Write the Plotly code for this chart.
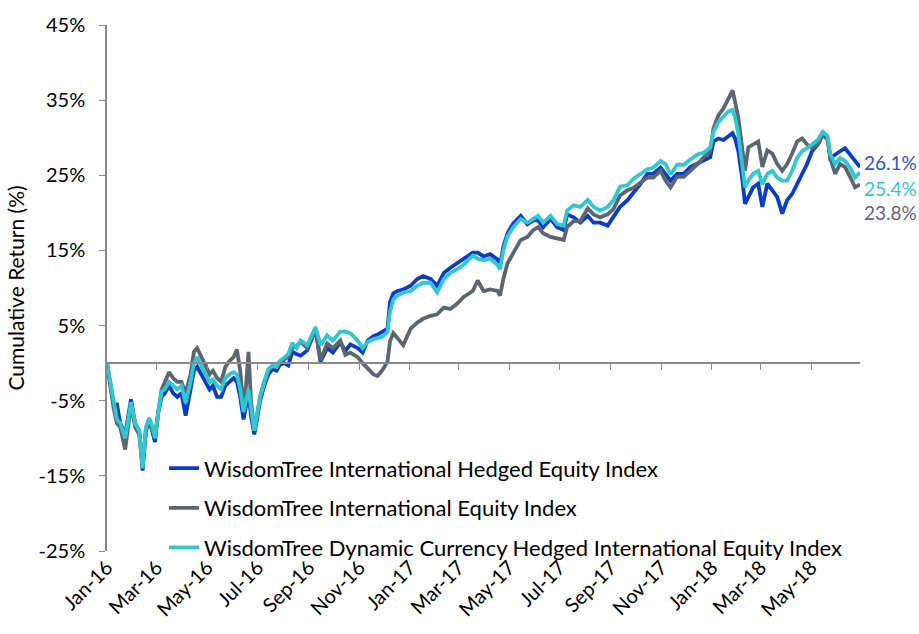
import plotly.graph_objects as go

dates = [
 "2016-01-01","2016-01-05","2016-01-09","2016-01-13","2016-01-17","2016-01-23","2016-01-30","2016-02-04","2016-02-09","2016-02-13",
 "2016-02-17","2016-02-21","2016-02-25","2016-02-28","2016-03-03","2016-03-07","2016-03-11","2016-03-16","2016-03-21","2016-03-26",
 "2016-03-31","2016-04-05","2016-04-11","2016-04-15","2016-04-19","2016-04-24","2016-04-29","2016-05-04","2016-05-08","2016-05-13",
 "2016-05-18","2016-05-23","2016-05-28","2016-06-02","2016-06-06","2016-06-10","2016-06-14","2016-06-17","2016-06-20","2016-06-23",
 "2016-06-27","2016-07-01","2016-07-04","2016-07-09","2016-07-14","2016-07-19","2016-07-24","2016-07-28","2016-08-02","2016-08-07",
 "2016-08-12","2016-08-17","2016-08-22","2016-08-30","2016-09-09","2016-09-15","2016-09-23","2016-09-30","2016-10-09","2016-10-15",
 "2016-10-21","2016-10-30","2016-11-05","2016-11-11","2016-11-18","2016-11-23","2016-11-29","2016-12-05","2016-12-08","2016-12-12",
 "2016-12-17","2016-12-24","2017-01-02","2017-01-10","2017-01-17","2017-01-26","2017-02-03","2017-02-11","2017-02-19","2017-02-27",
 "2017-03-07","2017-03-18","2017-03-24","2017-03-31","2017-04-08","2017-04-17","2017-04-20","2017-04-24","2017-04-29","2017-05-06",
 "2017-05-15","2017-05-23","2017-05-30","2017-06-05","2017-06-11","2017-06-20","2017-06-28","2017-07-06","2017-07-10","2017-07-18",
 "2017-07-26","2017-08-04","2017-08-11","2017-08-19","2017-08-28","2017-09-04","2017-09-12","2017-09-21","2017-09-28","2017-10-07",
 "2017-10-15","2017-10-22","2017-10-31","2017-11-06","2017-11-12","2017-11-20","2017-11-28","2017-12-06","2017-12-15","2017-12-22",
 "2017-12-30","2018-01-03","2018-01-09","2018-01-15","2018-01-21","2018-01-26","2018-01-29","2018-02-02","2018-02-07","2018-02-10",
 "2018-02-14","2018-02-20","2018-02-26","2018-03-03","2018-03-09","2018-03-15","2018-03-21","2018-03-27","2018-04-02","2018-04-08",
 "2018-04-14","2018-04-20","2018-04-26","2018-05-02","2018-05-09","2018-05-15","2018-05-21","2018-05-24","2018-05-30","2018-06-05",
 "2018-06-11","2018-06-17","2018-06-23","2018-06-29",
]

hedged = [
 0,-2.5,-5.5,-5.5,-8,-9.5,-4.8,-8,-9,-14.3,
 -9,-7.5,-9,-10.5,-6.5,-4.5,-4,-3,-4,-4.5,
 -4,-7,-3.5,-1,-0.5,-1.5,-2.5,-3.5,-3,-4.5,
 -4.5,-3,-2.5,-2,-2.5,-4.5,-7.5,-6,-4,-7,
 -9.5,-7,-5,-3,-1.5,-0.8,-1,-0.2,0,-0.3,
 1.5,1.2,1,1.7,4.5,0.2,2,1.4,2.8,1.6,
 2.5,2,1.4,3,3.6,3.8,4.2,4.6,8.1,9.3,
 9.6,9.8,10.3,11.2,11.6,11.2,10.3,12,12.7,13.3,
 13.8,14.7,14.7,14.2,14.5,13.8,13,15.5,17.3,18.6,
 19.6,18.5,19,19,18.1,19.2,18.1,17.7,19.8,19.4,
 18.7,19.6,18.7,18.7,18.3,19.4,20.8,21.7,22.6,23.9,
 25.2,25.2,26,25.2,24.3,25.2,25.2,26.1,26.6,27,
 27.4,29.5,29.9,29.7,30.2,30.6,29.9,28.2,24.3,21.2,
 22.1,23.4,23.9,20.8,23.9,23,22.1,19.9,21.7,22.5,
 23.8,25.2,26.5,28.2,29.1,30.4,29.9,27.3,27.8,28.2,
 28.6,27.8,26.9,26.1,
]

intl = [
 0,-3,-6,-8,-8.5,-11.5,-5.5,-8.5,-9.5,-13.5,
 -9,-7.8,-9,-9.5,-6,-3.5,-2.5,-1.2,-2,-2.5,
 -2.5,-4,-1.5,1.5,2,0.8,-0.5,-1.5,-1,-2,
 -2.5,-0.5,0.3,0.8,1.8,-1,-6,-3,1.5,-5,
 -9,-6.5,-4.5,-2.5,-1,-0.5,-0.5,0.2,0.5,0.8,
 2,2.3,2.8,2,4.6,0.4,2.6,2,3,1.1,
 1.4,0.8,0,-0.7,-1.5,-1.7,-0.9,0.2,2.9,4,
 3.3,2.4,4.6,5.4,5.9,6.3,6.5,7.4,7.2,7.9,
 8.8,9.6,11,9.6,9.8,9.6,9,11.2,13.3,14.6,
 16.4,16.8,17.7,18.1,17.3,16.8,16.6,16.4,18.1,18.9,
 18.9,20.6,19.8,19.4,19.8,20.5,22.3,23,23.3,24.1,
 24.7,24.7,25.6,24.3,23.4,24.8,24.8,25.6,26.5,27.4,
 28.2,31.3,33,33.9,35.2,36.3,34.8,32.6,28.3,25.6,
 28.7,29.1,29.5,26.1,28.3,27.9,26.5,25.6,26.5,27.9,
 29.5,29.9,29.1,28.6,29.1,30.4,29.7,27.3,25.2,26.5,
 26.1,24.8,23.4,23.8,
]

dynamic = [
 0,-2.5,-5.5,-7.5,-8,-10,-5.2,-8,-9,-14,
 -8.5,-7.3,-8.5,-10,-6.5,-3.8,-3.4,-2.5,-3,-3.5,
 -3,-5.3,-2.5,0,0.8,-0.5,-1.5,-2.5,-2.2,-3,
 -3.5,-2,-1.5,-1.2,-1.5,-3.5,-6.5,-5,-3.5,-6,
 -9,-6.5,-4.5,-2.5,-0.8,-0.3,-0.5,0.3,0.8,1.2,
 2.7,2,3,2.4,4.8,2.4,3.7,3,4.2,4.2,
 4,3,2,2.8,3.2,3.3,3.5,4.2,6.8,8.5,
 9,9.4,9.6,10.3,10.7,10.7,9.4,11.2,12,12.5,
 13.1,14.3,13.9,13.7,13.9,13.1,12.5,15,16.9,18.1,
 19.2,18.7,19.2,19.6,18.7,19.6,18.5,18.3,20.3,21,
 20.8,21.7,20.8,20.3,20.8,21.7,23.5,23.7,24.5,25.2,
 25.8,26,26.9,26.5,25.1,26.4,26.4,27.1,27.8,28,
 28.7,30.8,32.1,32.8,33.5,33.7,32.7,30.5,26.1,23.4,
 24.3,25.2,25.6,23.8,25.2,25.6,24.7,24.3,24.3,25.6,
 27.3,28.2,28.6,29.1,29.7,30.8,30.2,27.8,26.5,27.3,
 26.9,26,24.7,25.4,
]

series_names = [
    "WisdomTree International Hedged Equity Index",
    "WisdomTree International Equity Index",
    "WisdomTree Dynamic Currency Hedged International Equity Index",
]
series_values = [hedged, intl, dynamic]
series_colors = ["#0a3cc4", "#5c6670", "#30c8d0"]
label_colors = ["#2f52c8", "#5c6670", "#30c8d0"]
label_shift = [5, -28, -16]

y_range = [-25, 45]
y_ticks = [-25, -15, -5, 5, 15, 25, 35, 45]
y_tick_labels = ["-25%", "-15%", "-5%", "5%", "15%", "25%", "35%", "45%"]
x_range = ["2016-01-01", "2018-06-29"]

font_family = "Lato, 'Open Sans', sans-serif"
axis_gray = "#8a8a8a"

fig = go.Figure()
for i, (name, vals, col) in enumerate(zip(series_names, series_values, series_colors)):
    fig.add_trace(go.Scatter(
        x=dates, y=vals, mode="lines", name=name, legendgroup=f"g{i}",
        line=dict(color=col, width=3.8),
    ))
    fig.add_annotation(
        x=dates[-1], y=vals[-1], xref="x", yref="y",
        text=f"{vals[-1]:.1f}%", showarrow=False, xanchor="left", yanchor="middle",
        xshift=2, yshift=label_shift[i],
        font=dict(size=19, color=label_colors[i], family=font_family),
    )

zero_pos = (0 - y_range[0]) / (y_range[1] - y_range[0])

fig.update_layout(
    width=919, height=634,
    margin=dict(l=107, r=59, t=19, b=83),
    plot_bgcolor="white", paper_bgcolor="white",
    font=dict(family=font_family, size=20, color="#000000"),
    showlegend=True,
    legend=dict(
        x=0.0757, y=0.197, xanchor="left", yanchor="top",
        bgcolor="rgba(0,0,0,0)", font=dict(size=22, color="#000000"),
        traceorder="grouped", tracegroupgap=8,
    ),
    xaxis=dict(
        type="date", range=x_range, tick0="2016-01-01", dtick="M2",
        tickformat="%b-%y", tickangle=-45, showgrid=False, zeroline=False,
        showline=False, ticks="", tickfont=dict(size=20),
    ),
    xaxis2=dict(
        type="date", matches="x", overlaying="x", anchor="free", position=zero_pos,
        tick0="2016-01-01", dtick="M2", showgrid=False, zeroline=False,
        showline=True, linecolor=axis_gray, linewidth=1.5,
        ticks="outside", ticklen=6, tickcolor=axis_gray, tickwidth=1,
        showticklabels=False,
    ),
    yaxis=dict(
        range=y_range, tickvals=y_ticks, ticktext=y_tick_labels,
        showgrid=False, zeroline=False, showline=True, linecolor=axis_gray,
        linewidth=1.5, ticks="outside", ticklen=6, tickcolor=axis_gray,
        ticklabelstandoff=10,
        title=dict(text="Cumulative Return (%)", font=dict(size=21), standoff=8),
        tickfont=dict(size=20),
    ),
)

# invisible carrier so the zero-line axis is rendered
fig.add_trace(go.Scatter(x=[dates[0], dates[-1]], y=[0, 0], xaxis="x2", yaxis="y",
                         mode="lines", line=dict(width=0), showlegend=False,
                         hoverinfo="skip"))

fig.write_html("out.html", config={"displayModeBar": False},
               post_script="document.body.style.margin='0';")
